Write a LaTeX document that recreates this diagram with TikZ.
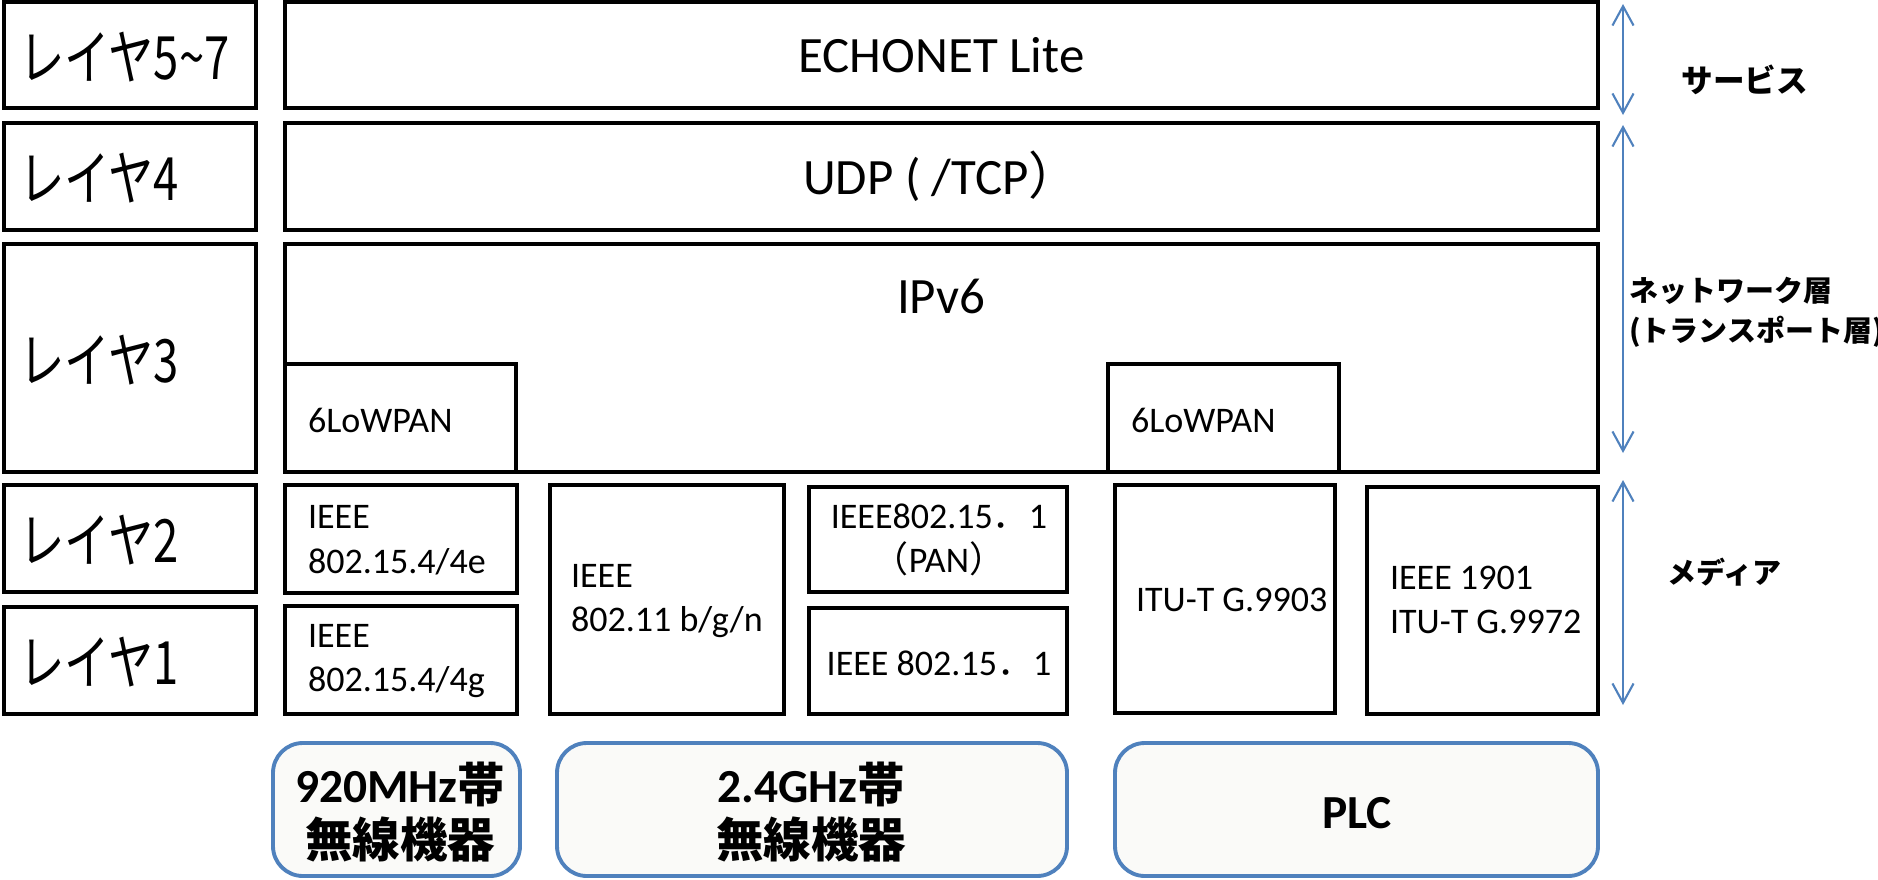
\documentclass[tikz,border=0pt]{standalone}
\usepackage{fontspec}
\setmainfont{Carlito}
\newfontfamily\jp{Noto Sans CJK JP}
\newfontfamily\jpnarrow{Noto Sans CJK JP}[FakeStretch=0.76]
\usetikzlibrary{arrows.meta}

\definecolor{plcblue}{HTML}{4F81BD}
\definecolor{bandfill}{HTML}{FAFAF8}

\tikzset{
        layerbox/.style={draw, line width=2.3pt},
        band/.style={draw=plcblue, fill=bandfill, line width=2.2pt, rounded corners=17pt},
        rowlabel/.style={anchor=west, inner sep=0pt, font=\jpnarrow\fontsize{34}{40}\selectfont},
        bigtext/.style={font=\fontsize{29}{34}\selectfont},
        stdtext/.style={inner sep=0pt, font=\fontsize{20.5}{25.5}\selectfont, align=left},
        bandtext/.style={font=\bfseries\fontsize{27}{31}\selectfont, align=center},
        sidetext/.style={anchor=west, inner sep=0pt, font=\jp\bfseries\fontsize{18}{23}\selectfont, align=left},
        spanarrow/.style={plcblue, line width=1.2pt, {Straight Barb[length=11pt,width=12pt]}-{Straight Barb[length=11pt,width=12pt]}},
}

\begin{document}
\begin{tikzpicture}[x=0.02cm, y=-0.02cm]
                \useasboundingbox (0,0) rectangle (1878,879);

                % layer names
                \draw[layerbox] (4,2) rectangle (256,108) node[rowlabel] (l57) at (17,57) {レイヤ5\textasciitilde7};
                \draw[layerbox] (4,123) rectangle (256,230) node[rowlabel] (l4) at (17,178) {レイヤ4};
                \draw[layerbox] (4,244) rectangle (256,472) node[rowlabel] (l3) at (17,360) {レイヤ3};
                \draw[layerbox] (4,485) rectangle (256,592) node[rowlabel] (l2) at (17,540) {レイヤ2};
                \draw[layerbox] (4,607) rectangle (256,714) node[rowlabel] (l1) at (17,662) {レイヤ1};

                % upper layers
                \draw[layerbox] (285,2) rectangle (1598,108) node[bigtext,pos=.5] (echonet) {ECHONET Lite};
                \draw[layerbox] (285,123) rectangle (1598,230) node[bigtext,pos=.5] (udp) {UDP ( /TCP{\jp ）}};
                \draw[layerbox] (285,244) rectangle (1598,472);
                \node[bigtext] (ipv6) at (941,296) {IPv6};
                \draw[layerbox] (285,364) rectangle (516,472) node[stdtext,anchor=west] (lowpan1) at (306,420) {6LoWPAN};
                \draw[layerbox] (1108,364) rectangle (1339,472) node[stdtext,anchor=west] (lowpan2) at (1129,420) {6LoWPAN};

                % media
                \draw[layerbox] (285,485) rectangle (517,593) node[stdtext,anchor=west] (ieee4e) at (306,540) {IEEE\\802.15.4/4e};
                \draw[layerbox] (285,606) rectangle (517,714) node[stdtext,anchor=west] (ieee4g) at (306,661) {IEEE\\802.15.4/4g};
                \draw[layerbox] (550,485) rectangle (784,714) node[stdtext,anchor=west] (wifi) at (569,601) {IEEE\\802.11 b/g/n};
                \draw[layerbox] (809,487) rectangle (1067,592) node[stdtext,align=center] (btpan) at (939,540) {IEEE802.15{\jp ．}1\\{\jp （}PAN{\jp ）}};
                \draw[layerbox] (809,608) rectangle (1067,714) node[stdtext] (bt) at (939,663) {IEEE 802.15{\jp ．}1};
                \draw[layerbox] (1115,485) rectangle (1335,713) node[stdtext,anchor=west] (g9903) at (1134,600) {ITU-T G.9903};
                \draw[layerbox] (1367,487) rectangle (1598,714) node[stdtext,anchor=west] (g9972) at (1388,600) {IEEE 1901\\ITU-T G.9972};

                % device groups
                \draw[band] (273,743) rectangle (520,876) node[bandtext] (sub920) at (400,812) {920MHz{\jp 帯}\\{\jp 無線機器}};
                \draw[band] (557,743) rectangle (1067,876) node[bandtext] (wl24) at (811,812) {2.4GHz{\jp 帯}\\{\jp 無線機器}};
                \draw[band] (1115,743) rectangle (1598,876) node[bandtext] (plc) at (1357,813) {PLC};

                % ranges on the right
                \coordinate (svc top) at (1623,4);
                \coordinate (svc bot) at (1623,115);
                \coordinate (net top) at (1623,125);
                \coordinate (net bot) at (1623,453);
                \coordinate (med top) at (1623,480);
                \coordinate (med bot) at (1623,705);
                \draw[spanarrow] (svc top) -- (svc bot);
                \draw[spanarrow] (net top) -- (net bot);
                \draw[spanarrow] (med top) -- (med bot);
                \node[sidetext] (svc) at (1681,80) {サービス};
                \node[sidetext,font=\jp\bfseries\fontsize{16.5}{23}\selectfont] (net) at (1629,312) {ネットワーク層\\(トランスポート層)};
                \node[sidetext,font=\jp\bfseries\fontsize{16.5}{21}\selectfont] (med) at (1667,572) {メディア};
\end{tikzpicture}
\end{document}
